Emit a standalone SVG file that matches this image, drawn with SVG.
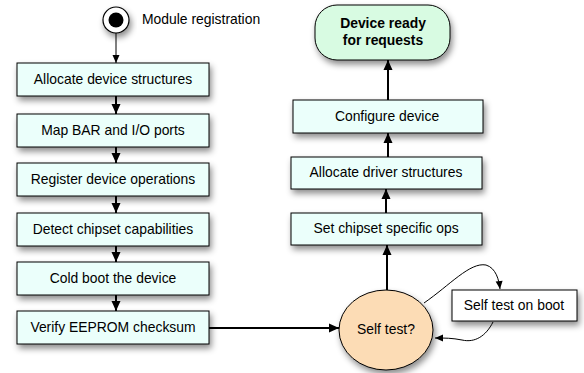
<svg xmlns="http://www.w3.org/2000/svg" width="584" height="373" viewBox="0 0 584 373">
<defs>
<filter id="sh" x="-20%" y="-20%" width="150%" height="170%">
<feDropShadow dx="2" dy="4" stdDeviation="3" flood-color="#000" flood-opacity="0.45"/>
</filter>
<marker id="ah" markerUnits="userSpaceOnUse" markerWidth="12" markerHeight="12" viewBox="0 0 12 12" refX="11" refY="6" orient="auto">
<path d="M1,1.5 L11,6 L1,10.5 Z" fill="#000"/>
</marker>
<marker id="ahs" markerUnits="userSpaceOnUse" markerWidth="10" markerHeight="10" viewBox="0 0 10 10" refX="9" refY="5" orient="auto">
<path d="M1,1.5 L9,5 L1,8.5 Z" fill="#000"/>
</marker>
</defs>
<style>
.box{fill:#ebfffb;stroke:#000;stroke-width:1;filter:url(#sh)}
.t{font-family:"Liberation Sans",Arial,sans-serif;font-size:13.9px;fill:#000;text-anchor:middle}
.b{font-weight:bold}
.c{fill:none;stroke:#000;stroke-width:2;marker-end:url(#ah)}
.thin{fill:none;stroke:#000;stroke-width:1;marker-end:url(#ahs)}
</style>
<g id="start">
<circle cx="116" cy="20" r="13" fill="#fff" stroke="#000" stroke-width="1.2" filter="url(#sh)"/>
<circle cx="116" cy="20" r="7.5" fill="#000"/>
<text class="t" x="142" y="24" style="text-anchor:start">Module registration</text>
</g>
<g id="n1"><rect class="box" x="17" y="63" width="192" height="33"/><text class="t" x="113" y="84">Allocate device structures</text></g>
<g id="n2"><rect class="box" x="17" y="114" width="192" height="33"/><text class="t" x="113" y="135">Map BAR and I/O ports</text></g>
<g id="n3"><rect class="box" x="17" y="163" width="192" height="33"/><text class="t" x="113" y="184">Register device operations</text></g>
<g id="n4"><rect class="box" x="17" y="213" width="192" height="33"/><text class="t" x="113" y="234">Detect chipset capabilities</text></g>
<g id="n5"><rect class="box" x="17" y="262" width="192" height="33"/><text class="t" x="113" y="283">Cold boot the device</text></g>
<g id="n6"><rect class="box" x="17" y="311" width="192" height="33"/><text class="t" x="113" y="332">Verify EEPROM checksum</text></g>
<g id="ready"><rect x="315" y="5" width="135" height="55" rx="22" ry="22" fill="#d8fbe2" stroke="#000" stroke-width="1" filter="url(#sh)"/>
<text class="t b" x="383" y="28">Device ready</text><text class="t b" x="383" y="45">for requests</text></g>
<g id="r1"><rect class="box" x="293" y="100" width="190" height="33"/><text class="t" x="387" y="121">Configure device</text></g>
<g id="r2"><rect class="box" x="291" y="157" width="191" height="32"/><text class="t" x="386" y="177">Allocate driver structures</text></g>
<g id="r3"><rect class="box" x="291" y="213" width="191" height="32"/><text class="t" x="386" y="233">Set chipset specific ops</text></g>
<g id="selftest"><ellipse cx="386" cy="330" rx="47" ry="40" fill="#fcdcb5" stroke="#000" stroke-width="1" filter="url(#sh)"/><text class="t" x="386" y="334">Self test?</text></g>
<g id="boot"><rect x="452" y="290" width="125" height="31" fill="#fff" stroke="#000" stroke-width="1" filter="url(#sh)"/><text class="t" x="514" y="310">Self test on boot</text></g>
<g id="connectors">
<path class="thin" d="M116,33 L116,63"/>
<path class="c" d="M116,96 L116,114"/>
<path class="c" d="M116,147 L116,163"/>
<path class="c" d="M116,196 L116,213"/>
<path class="c" d="M116,246 L116,262"/>
<path class="c" d="M116,295 L116,311"/>
<path class="c" d="M209,328 L339,328"/>
<path class="c" d="M387,290 L387,245"/>
<path class="c" d="M386,213 L386,189"/>
<path class="c" d="M388,157 L388,133"/>
<path class="c" d="M388,100 L388,60"/>
<path class="thin" d="M424,303 C450,285 470,262 486,265 C496,268 499,280 500,289"/>
<path class="thin" d="M493,322 C486,336 475,343 462,340 C452,338 445,338 435,338"/>
</g>
</svg>
